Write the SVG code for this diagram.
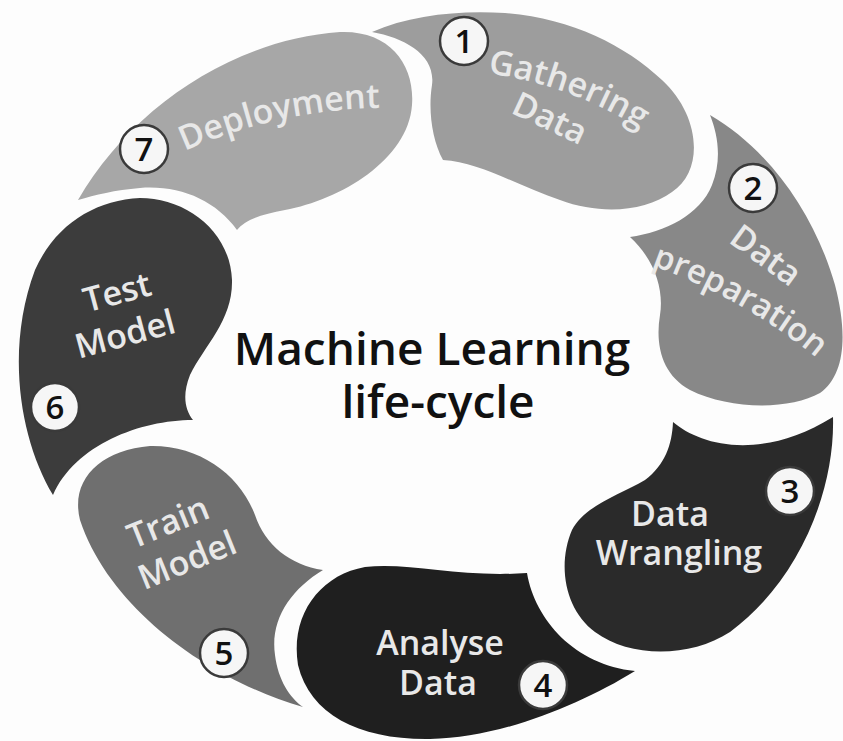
<svg xmlns="http://www.w3.org/2000/svg" width="843" height="741" viewBox="0 0 843 741">
<style>
.lbl{font-family:"Open Sans","Liberation Sans",sans-serif;font-weight:600;font-size:34px;fill:#e8e8e8;text-anchor:middle}
.num{font-family:"Open Sans","Liberation Sans",sans-serif;font-weight:600;font-size:33px;fill:#111;text-anchor:middle}
.badge{fill:#f6f6f6;stroke:#3a3a3a;stroke-width:2.5}
.title{font-family:"Open Sans","Liberation Sans",sans-serif;font-weight:600;font-size:46px;fill:#111;text-anchor:middle}
</style>
<defs>
<path id="arcGather" d="M371,75.8 A380,380 0 0 1 728.1,205.7"/>
<path id="arcPrep" d="M639,261.2 A550,550 0 0 1 837,375.6"/>
<path id="arcDeploy" d="M101.5,198.2 A500,500 0 0 1 475.1,115.4"/>
</defs>
<rect width="843" height="741" fill="#fdfdfd"/>
<g id="connectors"/>
<g id="step1">
<path fill="#9d9d9d" d="M372,32 C410,15 460,10 505,13 C570,18 625,45 662,80 C700,115 705,170 672,192 C645,212 600,215 560,200 C520,187 480,162 443,160 C432,140 428,110 432,85 C436,55 405,38 372,32 Z"/>
<circle class="badge" cx="464" cy="41" r="24"/>
<text class="num" x="464" y="53">1</text>
<text class="lbl"><textPath href="#arcGather" startOffset="50%">Gathering</textPath></text>
<text class="lbl" transform="translate(550,118) rotate(25)" y="12">Data</text>
</g>
<g id="step2">
<path fill="#888888" d="M710,115 C770,150 815,215 835,285 C848,335 845,375 820,393 C790,410 730,410 690,390 C662,375 655,345 660,315 C664,290 655,260 630,237 C665,232 700,215 712,185 C722,160 718,135 710,115 Z"/>
<circle class="badge" cx="753" cy="188" r="24"/>
<text class="num" x="753" y="200">2</text>
<text class="lbl" transform="translate(766,255) rotate(36)" y="12">Data</text>
<text class="lbl" style="font-size:33px"><textPath href="#arcPrep" startOffset="47%">preparation</textPath></text>
</g>
<g id="step3">
<path fill="#2a2a2a" d="M833,417 C835,490 800,580 730,632 C690,658 630,658 595,632 C565,610 557,565 572,530 C585,505 620,495 645,480 C665,465 672,445 673,422 C700,445 760,462 833,417 Z"/>
<circle class="badge" cx="790" cy="491" r="24"/>
<text class="num" x="790" y="503">3</text>
<text class="lbl" x="670" y="526">Data</text>
<text class="lbl" x="679" y="565">Wrangling</text>
</g>
<g id="step4">
<path fill="#1f1f1f" d="M635,671 C580,705 500,738 430,739 C360,740 310,715 298,665 C290,615 320,575 365,567 C410,562 460,578 527,573 C535,620 575,665 635,671 Z"/>
<circle class="badge" cx="543" cy="685" r="24"/>
<text class="num" x="543" y="697">4</text>
<text class="lbl" x="440" y="655">Analyse</text>
<text class="lbl" x="438" y="695">Data</text>
</g>
<g id="step5">
<path fill="#6f6f6f" d="M303,707 C210,680 110,610 80,520 C70,480 100,450 150,446 C200,445 240,475 255,515 C265,545 290,565 323,570 C290,590 270,620 275,655 C278,680 290,698 303,707 Z"/>
<circle class="badge" cx="224" cy="653" r="24"/>
<text class="num" x="224" y="665">5</text>
<text class="lbl" transform="translate(168,522) rotate(-22)" y="12">Train</text>
<text class="lbl" transform="translate(187,560) rotate(-22)" y="12">Model</text>
</g>
<g id="step6">
<path fill="#3c3c3c" d="M53,495 C20,440 5,350 35,270 C55,225 95,200 140,198 C185,198 230,230 232,280 C233,320 205,345 190,375 C182,395 185,410 193,420 C140,420 75,445 53,495 Z"/>
<circle class="badge" cx="55" cy="407" r="24"/>
<text class="num" x="55" y="419">6</text>
<text class="lbl" transform="translate(117,292) rotate(-15)" y="12">Test</text>
<text class="lbl" transform="translate(125,334) rotate(-15)" y="12">Model</text>
</g>
<g id="step7">
<path fill="#a7a7a7" d="M78,200 C130,110 230,40 340,32 C390,30 415,65 412,105 C408,160 340,200 285,210 C262,214 245,220 237,230 C215,200 180,185 140,188 C115,190 95,195 78,200 Z"/>
<circle class="badge" cx="144" cy="149" r="24"/>
<text class="num" x="144" y="161">7</text>
<text class="lbl"><textPath href="#arcDeploy" startOffset="50%">Deployment</textPath></text>
</g>
<g id="center">
<text class="title" x="432" y="365">Machine Learning</text>
<text class="title" x="438" y="418">life-cycle</text>
</g>
</svg>
